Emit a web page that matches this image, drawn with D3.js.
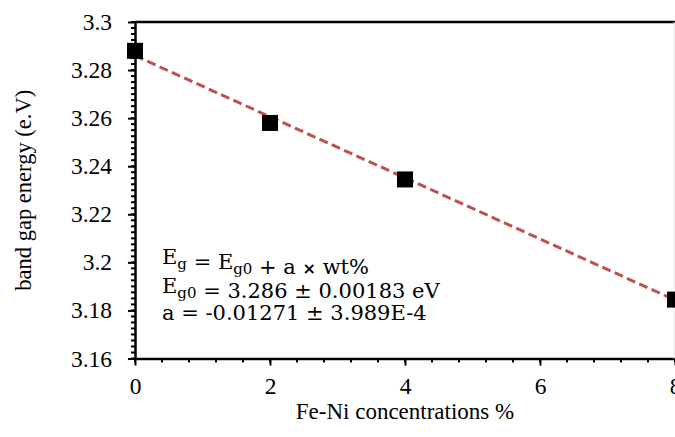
<!DOCTYPE html>
<html>
<head>
<meta charset="utf-8">
<script src="https://cdn.jsdelivr.net/npm/d3@7"></script>
</head>
<body style="margin:0">
<script>
// measured band gap values
const concentrations = [0, 2, 4, 8];
const bandGap = [3.288, 3.258, 3.2345, 3.1845];

// linear fit Eg = Eg0 + a * wt%
const fitX = [0, 8];
const fitIntercept = 3.286;
const fitSlope = -0.01271;

const xTicks = [0, 2, 4, 6, 8];
const yTicks = [3.16, 3.18, 3.2, 3.22, 3.24, 3.26, 3.28, 3.3];

const annotationLines = [
    [["E", null], ["g", "sub"], [" = E", null], ["g0", "sub"], [" + a ", null], ["×", "bold"], [" wt%", null]],
    [["E", null], ["g0", "sub"], [" = 3.286 ± 0.00183 eV", null]],
    [["a = -0.01271 ± 3.989E-4", null]]
];

const width = 675, height = 437;
const margin = { top: 22, right: 0, bottom: 78, left: 135 };

const svg = d3.select('body')
    .append('svg')
    .attr('width', width)
    .attr('height', height)
    .attr('font-family', 'Liberation Serif');

const x = d3.scaleLinear()
    .domain([0, 8])
    .range([margin.left, width - margin.right]);

const y = d3.scaleLinear()
    .domain([3.16, 3.3])
    .range([height - margin.bottom - 0.5, margin.top]);

// axis titles
svg.append('text')
    .attr('x', (x(0) + x(8)) / 2)
    .attr('y', 419)
    .attr('text-anchor', 'middle')
    .attr('font-size', 23)
    .attr('font-family', 'Liberation Serif')
    .text('Fe-Ni concentrations %');

svg.append('text')
    .attr('transform', `translate(31,${(y(3.16) + y(3.3)) / 2}) rotate(-90)`)
    .attr('text-anchor', 'middle')
    .attr('font-size', 22.5)
    .attr('font-family', 'Liberation Serif')
    .text('band gap energy (e.V)');

// minor ticks
const xMinor = d3.range(0, 8.001, 0.4);
const yMinor = d3.range(3.16, 3.3001, 0.0025);

svg.append('g')
    .selectAll('line')
    .data(xMinor)
    .join('line')
    .attr('x1', d => x(d)).attr('x2', d => x(d))
    .attr('y1', y(3.16)).attr('y2', y(3.16) + 4)
    .attr('stroke', '#000').attr('stroke-width', 2);

svg.append('g')
    .selectAll('line')
    .data(yMinor)
    .join('line')
    .attr('x1', x(0) - 4).attr('x2', x(0))
    .attr('y1', d => y(d)).attr('y2', d => y(d))
    .attr('stroke', '#000').attr('stroke-width', 2);

// x axis
const xAxis = svg.append('g')
    .attr('transform', `translate(0,${y(3.16)})`)
    .call(d3.axisBottom(x).tickValues(xTicks).tickFormat(d3.format('d')).tickSize(7).tickPadding(12).tickSizeOuter(0))
    .attr('font-family', null)
    .attr('font-size', 23.5);
xAxis.select('.domain').attr('stroke-width', 2.5);
xAxis.selectAll('.tick line').attr('stroke-width', 2);

// y axis
const yAxis = svg.append('g')
    .attr('transform', `translate(${x(0)},0)`)
    .call(d3.axisLeft(y).tickValues(yTicks).tickFormat(d => +d.toFixed(2) + '').tickSize(7).tickPadding(16).tickSizeOuter(0))
    .attr('font-family', null)
    .attr('font-size', 23.5);
yAxis.select('.domain').attr('stroke-width', 2.5);
yAxis.selectAll('.tick line').attr('stroke-width', 2);

// top border
svg.append('line')
    .attr('x1', x(0)).attr('x2', x(8))
    .attr('y1', y(3.3)).attr('y2', y(3.3))
    .attr('stroke', '#000').attr('stroke-width', 2.5);

// faint right edge
svg.append('line')
    .attr('x1', x(8) - 1).attr('x2', x(8) - 1)
    .attr('y1', y(3.3)).attr('y2', y(3.16))
    .attr('stroke', '#e4e4e4').attr('stroke-width', 1);

// fit line
svg.append('line')
    .attr('x1', x(fitX[0])).attr('y1', y(fitIntercept + fitSlope * fitX[0]))
    .attr('x2', x(fitX[1])).attr('y2', y(fitIntercept + fitSlope * fitX[1]))
    .attr('stroke', '#c0504d')
    .attr('stroke-width', 3)
    .attr('stroke-dasharray', '9,4.5');

// data markers
const sq = 16;
svg.append('g')
    .selectAll('rect')
    .data(concentrations)
    .join('rect')
    .attr('x', (d, i) => x(d) - sq / 2)
    .attr('y', (d, i) => y(bandGap[i]) - sq / 2)
    .attr('width', sq)
    .attr('height', sq)
    .attr('fill', '#000');

// fit annotation
const baselines = [264, 293, 320];
annotationLines.forEach((parts, i) => {
    const t = svg.append('text')
        .attr('x', 162)
        .attr('y', baselines[i])
        .attr('font-size', 21)
        .attr('font-family', 'DejaVu Serif');
    parts.forEach(([str, kind]) => {
        const s = t.append('tspan').text(str);
        if (kind === 'sub') {
            s.attr('font-size', 15).attr('dy', 5);
            // reset baseline for the following span
            t.append('tspan').attr('dy', -5).text('');
        } else if (kind === 'bold') {
            s.attr('font-weight', 'bold').attr('font-family', 'DejaVu Sans').attr('font-size', 16);
        }
    });
});
</script>
</body>
</html>
